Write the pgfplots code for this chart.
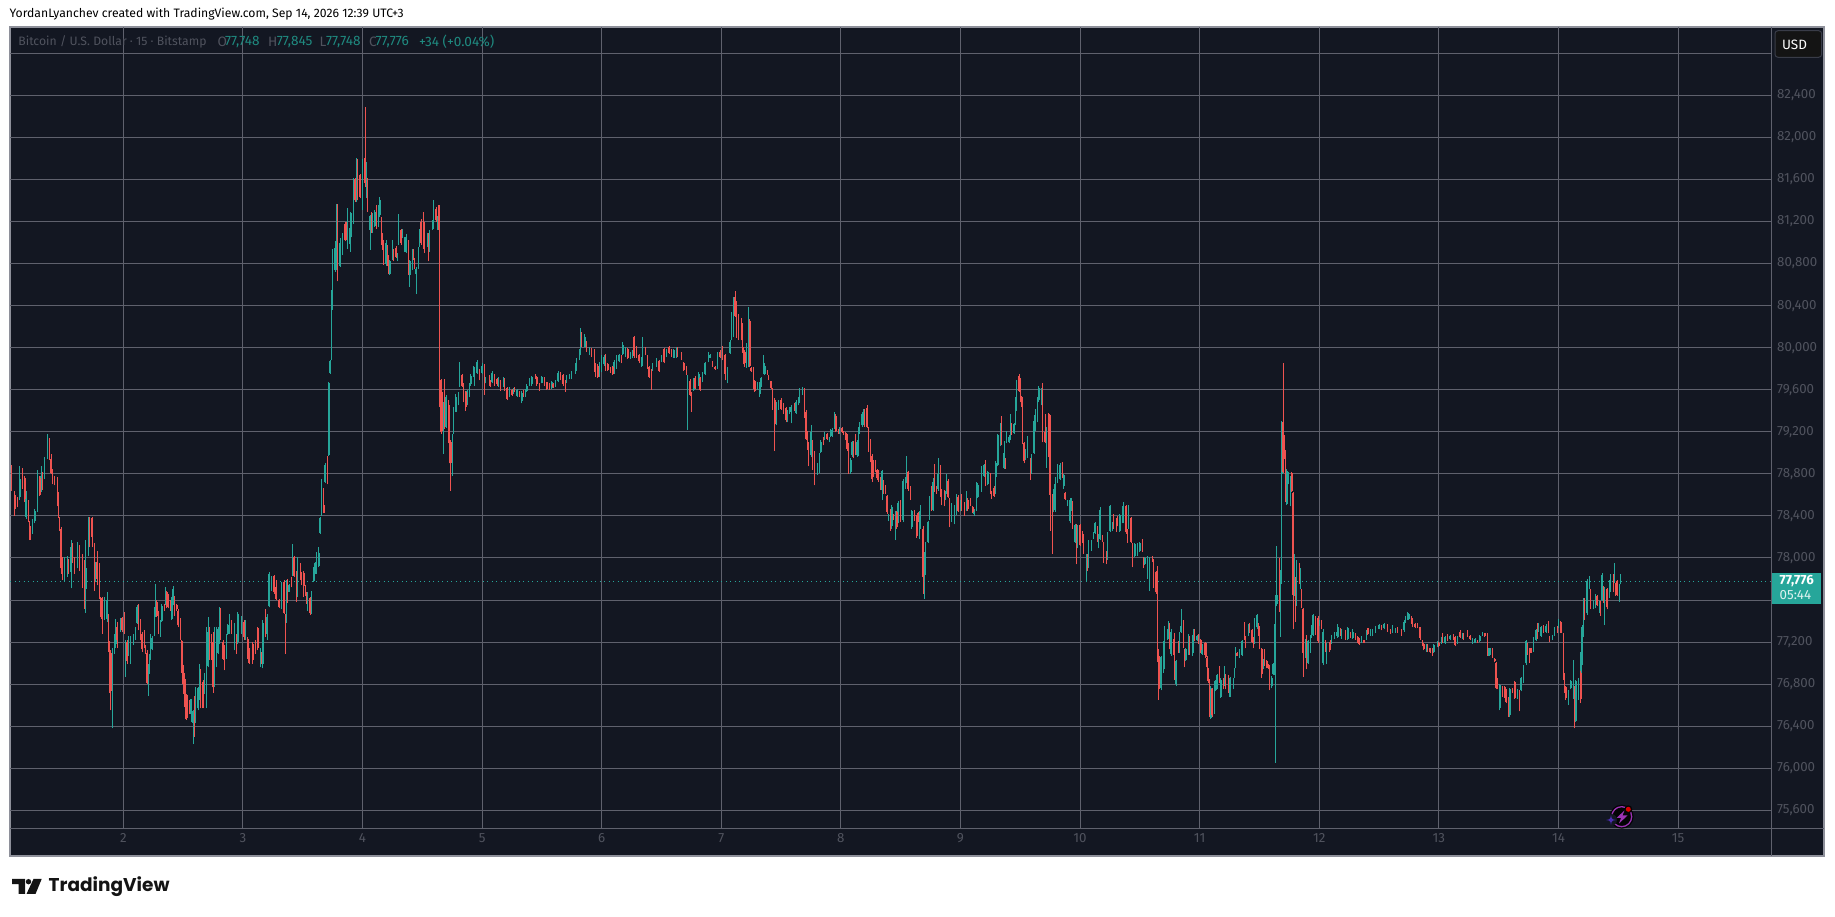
\documentclass[border=0pt]{standalone}
\usepackage{pgfplots}
\pgfplotsset{compat=1.18}
\usepackage{pgfplotstable}
\usepackage{fontspec}
\setmainfont{Fira Sans}
\newfontfamily\logofont{Poppins}
\definecolor{bg}{HTML}{131722}
\definecolor{gridc}{HTML}{5F616D}
\definecolor{framec}{HTML}{8E909A}
\definecolor{dimtxt}{HTML}{50535E}
\definecolor{cgreen}{HTML}{26A69A}
\definecolor{cred}{HTML}{EF5350}
\definecolor{dimgreen}{HTML}{1F8A80}
\pgfplotstableread{
x o h l c
6 78740 78880 78640 78640
9 78600 78640 78400 78470
11 78540 78580 78480 78490
13 78580 78870 78550 78750
15 78840 78860 78660 78670
17 78760 78780 78530 78560
18 78390 78640 78370 78560
20 78530 78550 78340 78350
21 78300 78350 78170 78170
23 78270 78370 78230 78360
25 78350 78470 78330 78450
27 78450 78840 78440 78760
29 78760 78780 78590 78600
30 78640 78870 78630 78780
31 78720 78820 78650 78660
33 78760 78960 78750 78950
35 78950 79180 78940 79130
37 79130 79140 78930 78940
38 78940 78990 78800 78810
39 78830 78850 78700 78760
41 78770 78780 78690 78700
43 78760 78770 78490 78650
44 78600 78630 78380 78390
45 78380 78390 78260 78280
46 78280 78290 77850 77900
47 77990 78010 77790 77860
49 77830 78010 77770 78000
51 77860 78020 77820 77990
52 77970 77990 77850 77870
54 77870 78170 77710 78100
55 78120 78140 77950 77960
57 78000 78010 77850 77880
59 77900 78150 77900 78130
61 78090 78120 77880 77900
63 77930 78040 77710 77780
65 77960 77980 77510 77630
66 77700 78170 77480 77900
68 78040 78390 78020 78380
69 78380 78390 78100 78130
71 78380 78390 78100 78200
73 78130 78140 77690 77880
74 77800 77960 77770 77940
75 77960 78070 77740 77800
77 77930 77950 77610 77640
78 77620 77630 77440 77450
79 77610 77630 77280 77420
81 77420 77630 77410 77600
83 77420 77680 77390 77600
84 77440 77470 77110 77200
85 77200 77210 76720 76730
86 77100 77120 76550 76730
87 76800 77140 76380 77100
89 77100 77280 77090 77250
90 77180 77420 77140 77300
91 77340 77390 77140 77220
94 77300 77430 77300 77420
95 77430 77440 77300 77310
97 77420 77490 77280 77300
98 77070 77220 76870 77180
99 77200 77220 76990 77020
100 77090 77260 77070 77220
102 77090 77260 76990 77180
104 77180 77280 77170 77260
106 77230 77340 77220 77320
107 77380 77550 77370 77530
108 77540 77560 77310 77340
110 77400 77420 77220 77240
111 77280 77300 77110 77130
113 77290 77310 77140 77170
114 77160 77170 77090 77100
115 77100 77120 76800 76810
116 76820 76990 76690 76980
117 76910 77090 76900 77070
118 77040 77280 77030 77200
119 77130 77260 77120 77240
121 77270 77530 77260 77500
122 77450 77750 77440 77600
123 77580 77600 77440 77450
124 77480 77500 77280 77360
126 77270 77410 77250 77390
127 77400 77560 77390 77540
129 77550 77560 77500 77510
130 77560 77720 77550 77700
131 77680 77690 77520 77530
132 77640 77660 77520 77530
134 77580 77600 77500 77510
135 77420 77630 77410 77610
136 77560 77730 77550 77700
137 77630 77640 77450 77470
139 77550 77560 77500 77510
140 77500 77510 77340 77360
142 77420 77430 77220 77220
143 77210 77220 76910 76940
144 76960 76980 76710 76800
145 76900 76910 76580 76600
146 76840 76850 76470 76520
147 76700 76710 76460 76480
149 76630 76650 76520 76530
150 76530 76660 76520 76640
151 76460 76660 76440 76640
152 76430 76550 76230 76540
153 76680 76690 76300 76440
154 76450 76770 76430 76660
156 76570 76770 76550 76760
157 76650 76990 76650 76770
158 76770 76940 76570 76570
160 76820 76840 76570 76570
161 76720 76910 76710 76900
163 76620 77340 76570 77310
164 76970 77440 76960 77300
165 77300 77340 77030 77040
167 77200 77280 77030 77040
168 77200 77300 76720 76770
169 76780 77340 76770 77280
171 76980 77340 76960 77300
172 77100 77340 77090 77320
173 77190 77530 77180 77500
174 77500 77520 77220 77230
176 77200 77220 77030 77040
177 77150 77170 76930 77040
179 77050 77280 77040 77270
180 77280 77370 77270 77360
181 77290 77470 77280 77400
183 77400 77410 77280 77290
185 77130 77380 77120 77370
187 77260 77280 77090 77110
188 77200 77490 77180 77470
191 77290 77450 77280 77440
193 77390 77410 77220 77250
194 77230 77410 77220 77310
196 77230 77250 77040 77060
197 77130 77140 76990 77000
200 77180 77200 76990 77030
202 77210 77220 77090 77100
204 77330 77340 77120 77140
206 76980 77140 76960 77120
207 77090 77110 76990 77000
208 76990 77410 76950 77380
210 77390 77510 77250 77270
211 77290 77440 77280 77420
212 77300 77470 77220 77450
213 77540 77870 77530 77850
215 77700 77830 77690 77820
217 77830 77840 77660 77680
218 77710 77720 77610 77620
219 77760 77790 77600 77600
221 77600 77610 77520 77530
223 77530 77770 77510 77760
225 77770 77790 77470 77480
226 77460 77470 77090 77150
227 77600 77790 77380 77770
228 77790 77800 77570 77580
229 77680 77750 77680 77740
231 77810 77820 77720 77730
232 77850 78130 77830 78010
233 78010 78020 77820 77830
235 77870 77880 77580 77600
236 77640 78010 77630 77880
238 77930 77950 77790 77800
239 77860 77870 77740 77750
241 77860 77880 77630 77730
242 77730 77740 77640 77660
243 77670 77680 77560 77580
244 77510 77680 77500 77660
246 77620 77630 77460 77480
247 77560 77690 77470 77660
249 77780 77910 77770 77900
250 77860 77960 77850 77950
251 77860 78060 77850 78040
253 77920 78100 77910 78050
254 78240 78390 78230 78380
255 78410 78750 78400 78600
257 78500 78670 78430 78430
258 78720 78900 78710 78880
260 78950 78970 78700 78710
261 78980 79670 78970 79660
262 79760 79880 79750 79870
263 79880 80550 79880 80540
264 80480 80940 80360 80780
266 80740 81010 80720 80950
267 80750 81370 80740 81000
268 80960 81370 80630 80820
270 80780 81040 80770 81000
272 80890 81090 80880 81060
274 81180 81200 81010 81020
275 81180 81200 81020 81040
276 81000 81330 80940 81300
278 80990 81290 80910 81140
279 81070 81280 81050 81250
281 81190 81610 81180 81590
282 81600 81610 81390 81400
283 81400 81800 81390 81700
284 81780 81790 81400 81420
286 81640 81650 81420 81430
288 81520 81790 81310 81780
290 81800 82290 81530 81570
291 81550 81770 81420 81750
292 81600 81610 81290 81300
294 81120 81260 80930 81250
295 81260 81290 81090 81100
296 81100 81280 81090 81250
298 81160 81310 81150 81290
299 81340 81360 81130 81150
301 81170 81360 81150 81330
302 81260 81430 81240 81400
303 81230 81240 80980 81000
304 81080 81090 80930 80950
305 81000 81020 80790 80800
307 80800 81020 80780 81000
308 80960 80980 80780 80800
309 80870 80880 80700 80720
310 80700 80830 80690 80820
312 80840 81020 80830 81000
313 80930 80940 80820 80830
315 80950 80970 80850 80860
316 80830 80900 80820 80880
317 80990 81270 80980 81250
319 81120 81130 80980 81000
320 81050 81130 81040 81120
322 80920 81050 80910 81040
323 80910 81080 80900 81050
325 80990 81020 80690 80720
326 80690 80830 80580 80820
328 80760 80940 80740 80930
329 80930 80940 80830 80840
330 80840 80850 80750 80770
331 80700 80770 80510 80750
333 80760 80960 80750 80950
334 80970 81130 80960 81120
335 81200 81220 80980 81000
337 81200 81290 80940 80960
338 81180 81200 80900 80910
340 80970 81090 80960 81070
341 81070 81090 80820 80880
342 80930 81120 80910 81100
344 81130 81210 81120 81200
345 81150 81400 81130 81300
347 81320 81340 81200 81210
348 81140 81250 81120 81230
349 81340 81360 81120 81130
350 81120 81360 79440 79440
351 79690 79700 79180 79200
352 79570 79580 79210 79230
353 79190 79480 78990 79470
354 79480 79700 79230 79240
355 79250 79550 79240 79530
357 79490 79500 79090 79100
358 79440 79450 78900 78900
359 79100 79120 78640 78900
360 78800 79180 78780 79170
361 79190 79440 79180 79420
363 79390 79560 79390 79530
365 79460 79580 79450 79560
366 79640 79860 79630 79850
368 79740 79750 79630 79640
369 79640 79660 79480 79500
371 79580 79590 79400 79440
372 79470 79600 79450 79590
374 79540 79660 79530 79640
375 79650 79750 79640 79730
377 79730 79830 79720 79820
378 79700 79820 79640 79800
380 79760 79880 79750 79860
382 79790 79800 79690 79700
384 79760 79850 79750 79830
386 79830 79840 79550 79700
387 79660 79720 79660 79710
390 79730 79740 79640 79650
391 79680 79690 79630 79640
392 79670 79780 79660 79760
394 79740 79750 79640 79650
396 79700 79710 79640 79650
397 79640 79720 79630 79710
399 79680 79690 79590 79610
401 79640 79720 79630 79710
402 79700 79710 79590 79610
404 79620 79630 79500 79510
406 79540 79630 79530 79620
408 79600 79610 79540 79550
409 79560 79620 79560 79610
410 79620 79630 79580 79590
412 79540 79610 79530 79600
414 79580 79590 79530 79540
416 79490 79590 79470 79570
417 79590 79600 79530 79540
419 79540 79610 79530 79600
420 79590 79650 79580 79640
422 79650 79710 79640 79700
424 79650 79730 79640 79720
427 79740 79750 79700 79700
428 79720 79730 79640 79650
430 79650 79660 79590 79610
432 79660 79730 79660 79720
434 79710 79720 79640 79650
436 79670 79670 79600 79610
438 79650 79660 79600 79610
440 79620 79680 79610 79670
441 79650 79660 79620 79630
443 79640 79690 79630 79680
445 79680 79780 79670 79760
447 79760 79770 79690 79700
449 79740 79750 79640 79650
451 79680 79690 79580 79610
452 79670 79740 79660 79720
454 79700 79750 79700 79740
456 79700 79780 79700 79770
459 79760 79850 79750 79830
460 79790 79900 79780 79880
462 79890 79990 79880 79980
463 79930 80190 79930 80160
464 80130 80150 80010 80020
466 80020 80130 80010 80120
467 80020 80100 80010 80080
468 80050 80060 79960 79970
470 79940 80010 79930 79990
472 79990 80000 79910 79920
474 79980 79990 79770 79780
475 79830 79850 79720 79730
477 79830 79840 79710 79720
478 79730 79860 79720 79850
480 79780 79930 79770 79910
482 79840 79930 79830 79910
483 79930 79940 79780 79800
485 79840 79850 79780 79790
487 79800 79820 79760 79770
489 79820 79830 79740 79750
490 79760 79880 79750 79860
492 79810 79930 79800 79910
494 79870 79940 79860 79930
496 79920 79930 79850 79860
497 79940 80050 79930 80030
499 79920 80010 79910 80000
501 79990 80000 79890 79900
503 79900 79960 79890 79950
505 79900 79980 79900 79960
506 80100 80110 79900 79920
508 80010 80020 79900 79910
510 79930 79940 79850 79870
512 79830 79910 79820 79900
513 79850 80100 79830 80000
515 80000 80010 79930 79940
517 79920 79930 79800 79810
518 79820 79830 79710 79720
520 79790 79800 79600 79680
521 79790 79850 79780 79840
524 79820 79900 79820 79880
526 79870 79880 79770 79780
528 79870 79930 79860 79920
530 79990 80000 79850 79860
532 79920 79990 79910 79980
534 80010 80020 79940 79950
536 79980 79990 79910 79920
538 79900 79990 79900 79980
540 79900 80010 79900 79990
541 80000 80010 79910 79920
544 79950 79960 79880 79890
546 79850 79860 79780 79790
548 79820 79830 79740 79750
549 79500 79740 79220 79730
551 79680 79700 79540 79550
552 79570 79580 79390 79450
554 79600 79710 79590 79690
555 79710 79730 79610 79620
558 79650 79770 79640 79750
559 79710 79720 79590 79600
561 79680 79770 79670 79760
563 79750 79860 79740 79850
566 79870 79960 79860 79950
567 79900 79940 79900 79930
569 79860 79870 79820 79830
571 79820 79830 79790 79800
573 79810 79960 79800 79950
575 79960 79980 79900 79910
577 80010 80020 79880 79890
579 79930 79940 79690 79750
581 79670 79820 79660 79800
583 79950 80070 79940 80050
584 80080 80340 80070 80300
586 80120 80480 80100 80450
587 80480 80540 80290 80300
588 80420 80440 80090 80160
590 80300 80320 80070 80100
592 80260 80280 80070 80100
593 80200 80230 79950 79980
594 80000 80010 79840 79860
595 79960 79980 79820 79850
596 79830 80040 79810 80020
598 79840 80390 79820 80030
599 80250 80270 79820 79830
600 79810 79820 79770 79780
602 79800 79820 79610 79670
603 79680 79690 79580 79590
605 79600 79670 79600 79660
607 79560 79670 79530 79660
608 79630 79720 79630 79710
610 79770 79930 79750 79900
611 79750 79850 79740 79830
613 79780 79790 79740 79750
614 79730 79740 79690 79700
616 79680 79680 79610 79620
617 79610 79620 79410 79420
619 79500 79520 79020 79270
620 79270 79480 79260 79470
622 79410 79500 79410 79490
624 79500 79520 79410 79420
626 79460 79470 79370 79390
628 79430 79440 79290 79310
629 79310 79410 79290 79390
631 79380 79440 79370 79430
632 79390 79450 79280 79440
635 79460 79470 79400 79410
636 79380 79500 79370 79480
638 79460 79530 79450 79520
639 79480 79620 79470 79610
641 79560 79630 79550 79620
643 79610 79620 79330 79340
644 79390 79410 79120 79130
645 79200 79210 79030 79050
646 79090 79100 78870 78940
648 78980 79260 78960 79200
649 79100 79120 78840 78880
651 79000 79020 78690 78700
653 78800 78900 78790 78890
655 78820 79000 78810 78990
656 79010 79120 79000 79100
658 79140 79150 79070 79080
659 79130 79200 79120 79190
661 79180 79190 79120 79130
663 79110 79150 79100 79140
664 79160 79230 79150 79220
665 79170 79240 79150 79220
667 79240 79390 79230 79370
668 79350 79370 79200 79210
670 79220 79230 79180 79190
671 79190 79250 79180 79240
673 79240 79250 79190 79200
674 79210 79210 79170 79180
676 79190 79200 79120 79130
677 79170 79180 79020 79040
678 79070 79090 78800 78950
680 78820 78950 78800 78930
681 78980 79110 78960 79100
682 79100 79110 78950 78970
684 79160 79180 78980 78990
685 78980 79120 78960 79100
686 78990 79250 78970 79230
687 79190 79290 79180 79280
689 79260 79390 79250 79370
690 79280 79420 79260 79400
691 79400 79420 79250 79260
693 79430 79450 79240 79250
694 79240 79250 79010 79020
696 79110 79130 78910 78930
697 78970 78990 78720 78750
698 78920 78930 78770 78800
700 78920 78930 78820 78830
701 78840 78850 78740 78760
702 78830 78840 78720 78740
704 78760 78770 78650 78660
705 78650 78840 78550 78830
706 78730 78740 78610 78620
708 78680 78690 78610 78620
709 78590 78600 78420 78440
710 78360 78420 78350 78410
712 78460 78470 78260 78300
713 78300 78500 78280 78480
714 78410 78420 78360 78370
716 78250 78450 78170 78430
717 78440 78450 78280 78290
718 78350 78540 78330 78520
720 78540 78550 78340 78360
722 78360 78750 78340 78730
724 78670 78770 78660 78760
725 78720 78970 78710 78780
726 78820 78830 78640 78660
728 78660 78680 78550 78560
729 78290 78460 78280 78450
731 78450 78460 78350 78360
733 78390 78410 78190 78210
734 78430 78440 78340 78350
735 78200 78450 78180 78430
736 78300 78500 78280 78480
738 78280 78300 77660 77820
739 77650 78060 77610 78030
740 77860 78150 77840 78130
742 78150 78350 78140 78340
743 78370 78590 78360 78570
745 78670 78680 78450 78470
746 78460 78760 78450 78720
747 78880 78890 78630 78640
749 78670 78680 78610 78620
750 78660 78950 78640 78800
752 78870 78880 78580 78600
753 78650 78660 78500 78520
755 78640 78650 78490 78500
756 78560 78640 78550 78630
757 78630 78800 78610 78780
758 78730 78750 78570 78580
759 78550 78570 78290 78400
761 78360 78520 78340 78500
763 78330 78500 78320 78490
765 78420 78610 78410 78600
766 78580 78600 78440 78450
768 78460 78550 78450 78540
769 78600 78610 78450 78470
771 78520 78530 78400 78410
773 78470 78640 78450 78550
774 78550 78570 78450 78470
776 78560 78570 78490 78500
778 78480 78490 78430 78440
779 78420 78470 78400 78460
781 78460 78720 78450 78700
782 78580 78710 78570 78690
785 78640 78870 78630 78790
787 78780 78890 78770 78880
788 78800 78930 78680 78700
790 78700 78830 78690 78820
792 78800 78810 78610 78630
793 78630 78640 78560 78570
795 78670 78680 78580 78590
796 78630 78920 78610 78900
797 78780 78900 78770 78890
798 78880 79180 78870 79170
800 79070 79280 79060 79140
801 79140 79350 79070 79080
803 78860 79110 78850 79000
804 78930 78950 78850 78860
805 79100 79210 79090 79200
807 79100 79170 79090 79150
808 79130 79370 79120 79180
809 79270 79280 79170 79180
811 79190 79280 79180 79270
812 79270 79530 79260 79500
813 79450 79690 79400 79670
815 79730 79750 79580 79590
816 79690 79710 79480 79530
817 79530 79540 79440 79450
818 79440 79530 79080 79100
819 79090 79100 78900 78920
820 78940 79040 78930 79030
822 78960 79160 78950 79140
824 78930 78950 78740 78780
825 78810 78990 78800 78980
827 79000 79360 78990 79300
828 79230 79420 79210 79400
830 79310 79530 79290 79520
831 79500 79640 79480 79620
833 79470 79620 79450 79610
834 79650 79660 79100 79120
836 79200 79370 79090 79100
837 78900 79250 78860 79230
839 79370 79380 78960 79000
840 79340 79360 78260 78600
842 78600 78610 78040 78300
843 78460 78660 78440 78640
844 78470 78770 78440 78700
846 78720 78890 78710 78880
848 78750 78900 78740 78880
850 78900 78910 78760 78770
851 78680 78800 78660 78790
852 78620 78630 78550 78560
854 78500 78550 78490 78540
856 78350 78570 78330 78550
857 78470 78570 78450 78550
858 78530 78540 78280 78300
860 78150 78320 78140 78310
861 78310 78320 77940 78010
862 78100 78310 78090 78300
864 78310 78320 78110 78120
866 78250 78260 78140 78150
867 78220 78230 78040 78060
869 77800 78040 77770 78030
870 78030 78040 77880 77900
871 77920 78170 77900 78150
873 78080 78170 78070 78160
875 78190 78250 78180 78240
876 78240 78340 78230 78330
878 78290 78300 78150 78170
879 78100 78230 78090 78220
880 78180 78480 78170 78460
882 78210 78220 78150 78160
883 78140 78150 77950 77960
885 78060 78070 77940 77950
886 78000 78250 77980 78230
888 78260 78500 78250 78490
890 78270 78340 78260 78330
891 78410 78420 78280 78290
893 78370 78380 78250 78260
894 78390 78400 78300 78300
896 78260 78420 78250 78410
898 78340 78490 78330 78470
899 78350 78530 78330 78510
901 78490 78500 78230 78250
902 78270 78280 78140 78150
903 78290 78500 78280 78480
905 78380 78390 78140 78150
906 78130 78140 77910 77930
908 78020 78140 78010 78130
910 78030 78140 78020 78130
912 78070 78150 78060 78140
914 78170 78180 78060 78070
915 78000 78010 77900 77910
916 77940 78010 77930 78000
918 77820 78020 77800 78000
920 77800 78010 77690 78000
922 78010 78020 77960 77970
923 77990 77990 77710 77800
925 77870 77880 77660 77680
926 77700 77920 77010 77020
927 77030 77130 76650 76750
928 77050 77070 76750 76770
929 76760 77070 76740 77060
931 76920 77210 76910 77190
932 76960 77350 76940 77330
934 77230 77320 77220 77310
935 77240 77400 77230 77390
936 77370 77380 77130 77140
937 77090 77320 77070 77300
939 77220 77230 77080 77090
940 77270 77290 76840 76950
941 76800 77030 76780 77020
943 77200 77210 77100 77110
944 77120 77300 77100 77290
945 77300 77510 77290 77350
947 77390 77410 77140 77160
948 77120 77130 76960 76980
949 77030 77140 77020 77130
951 77100 77280 77080 77270
952 77250 77260 77080 77100
954 77090 77270 77070 77260
955 77110 77320 77100 77310
956 77310 77320 77210 77220
958 77220 77270 77210 77260
959 77270 77280 77180 77190
961 77220 77230 77100 77120
962 77090 77180 77080 77170
964 77180 77190 77080 77090
965 77190 77200 77050 77060
966 77050 77070 76830 76960
967 76940 76950 76810 76820
968 76840 76850 76490 76510
969 76480 76780 76470 76760
970 76750 76760 76490 76510
972 76540 76830 76520 76810
973 76740 76840 76730 76830
974 76760 76900 76750 76890
976 76950 76970 76810 76830
977 76680 76860 76670 76840
979 76850 76860 76750 76760
980 76790 76970 76780 76950
981 76890 76900 76750 76760
983 76880 76890 76720 76730
984 76700 76860 76680 76850
985 76700 76870 76680 76860
987 76760 76860 76750 76850
988 76870 76950 76860 76940
989 76960 77150 76950 77140
990 77100 77110 77070 77070
992 77060 77130 77050 77120
994 77080 77220 77070 77210
996 77380 77390 77220 77240
997 77250 77260 77140 77160
999 77260 77370 77260 77350
1000 77370 77380 77290 77300
1002 77310 77320 77190 77200
1003 77240 77250 77140 77160
1004 77200 77430 77180 77410
1006 77340 77470 77320 77460
1007 77370 77380 77260 77270
1008 77340 77350 77130 77150
1010 77130 77140 76860 76900
1011 76950 77040 76940 77030
1012 77120 77130 76970 76980
1014 77020 77030 76950 76960
1015 76980 76990 76940 76950
1016 76960 76980 76740 76760
1018 76780 76880 76760 76860
1019 76900 77000 76890 76990
1020 76900 77370 76890 77300
1021 76900 77650 76050 77640
1022 77560 78110 77540 77650
1024 77990 78000 77490 77540
1025 77500 77890 77250 77800
1026 78800 79300 77750 79290
1027 79290 79850 78810 78820
1028 79160 79170 78940 78950
1029 79020 79030 78530 78540
1030 78510 78850 78500 78830
1031 78710 78820 78700 78810
1033 78500 78780 78490 78760
1034 78810 78820 78630 78640
1035 78620 78630 77320 77650
1036 77650 78040 77640 78020
1037 77800 77820 77390 77550
1038 77560 77980 77540 77960
1040 77940 77950 77750 77760
1041 77710 77900 77700 77880
1042 77690 77700 77520 77530
1043 77510 77520 76870 77100
1045 77060 77230 77050 77220
1046 77260 77270 76940 77020
1047 77000 77220 76990 77210
1049 77110 77270 77100 77260
1050 77250 77360 77240 77340
1051 77270 77470 77260 77460
1053 77440 77450 77270 77290
1055 77430 77450 77190 77210
1056 77360 77410 77350 77400
1058 77400 77410 77320 77330
1059 77000 77320 76980 77300
1061 77210 77220 77110 77120
1062 77000 77190 76990 77170
1064 77190 77200 77110 77120
1065 77210 77220 77120 77130
1066 77190 77270 77180 77260
1068 77240 77300 77230 77290
1070 77260 77300 77260 77290
1071 77250 77370 77240 77340
1073 77320 77330 77260 77270
1074 77240 77320 77230 77310
1077 77300 77310 77220 77240
1079 77230 77340 77220 77330
1081 77290 77300 77240 77250
1083 77240 77320 77230 77300
1085 77280 77290 77220 77230
1087 77250 77260 77190 77200
1088 77230 77240 77170 77180
1090 77200 77260 77190 77250
1092 77220 77220 77190 77190
1094 77230 77310 77220 77300
1095 77330 77330 77270 77280
1097 77260 77320 77260 77310
1099 77260 77320 77260 77310
1101 77300 77350 77290 77340
1104 77320 77370 77320 77360
1106 77350 77360 77310 77320
1108 77330 77380 77320 77370
1111 77360 77370 77300 77310
1113 77320 77320 77280 77290
1115 77290 77360 77290 77340
1117 77290 77330 77290 77330
1119 77340 77340 77290 77300
1122 77310 77320 77260 77270
1124 77310 77410 77300 77390
1125 77390 77450 77380 77440
1127 77420 77490 77410 77480
1128 77420 77480 77410 77470
1130 77440 77450 77370 77380
1131 77420 77430 77340 77350
1133 77370 77380 77330 77340
1135 77370 77380 77330 77340
1137 77340 77340 77220 77240
1139 77220 77220 77160 77170
1140 77180 77190 77120 77130
1142 77120 77180 77110 77170
1143 77170 77180 77110 77120
1145 77140 77140 77100 77110
1147 77130 77140 77070 77070
1148 77110 77180 77100 77170
1151 77160 77210 77150 77200
1152 77190 77200 77150 77160
1154 77180 77250 77180 77240
1155 77280 77290 77190 77200
1157 77190 77260 77180 77250
1159 77270 77280 77210 77220
1161 77230 77270 77220 77260
1164 77270 77280 77220 77230
1165 77250 77260 77160 77170
1167 77190 77260 77180 77250
1169 77300 77310 77240 77250
1171 77240 77290 77230 77280
1172 77280 77290 77220 77230
1175 77300 77310 77250 77260
1177 77260 77270 77220 77230
1179 77190 77240 77180 77230
1181 77190 77240 77190 77230
1183 77210 77220 77190 77190
1185 77210 77270 77200 77260
1187 77270 77300 77260 77300
1189 77290 77290 77250 77260
1191 77280 77290 77070 77080
1192 77080 77140 77070 77140
1193 77080 77140 77070 77140
1195 77140 77140 77050 77060
1197 77040 77050 77010 77020
1198 77000 77010 76750 76760
1199 76850 76860 76750 76760
1201 76570 76800 76550 76790
1203 76770 76780 76680 76700
1205 76770 76780 76670 76680
1206 76740 76750 76620 76630
1208 76680 76680 76490 76500
1209 76510 76760 76490 76750
1211 76760 76760 76720 76730
1213 76820 76830 76660 76670
1215 76670 76750 76660 76740
1217 76730 76740 76540 76550
1218 76740 76870 76730 76860
1220 76820 76980 76810 76970
1222 77000 77220 76980 77210
1223 77180 77190 77080 77090
1225 77140 77140 77000 77020
1226 77140 77140 77100 77100
1228 77120 77250 77110 77240
1230 77220 77320 77210 77310
1231 77370 77380 77230 77240
1232 77310 77380 77300 77370
1234 77260 77350 77250 77340
1236 77350 77360 77290 77290
1238 77300 77370 77290 77350
1240 77390 77400 77290 77300
1241 77250 77260 77200 77210
1243 77230 77270 77220 77260
1245 77270 77340 77260 77330
1247 77340 77350 77290 77300
1248 77340 77420 77330 77410
1250 77390 77400 77290 77290
1252 77280 77290 76840 76860
1253 76900 76910 76720 76730
1254 76770 76780 76650 76670
1256 76620 76740 76600 76730
1258 76760 76840 76750 76830
1260 76680 77030 76660 76840
1261 76770 76780 76380 76400
1262 76450 76840 76440 76830
1264 76670 76860 76650 76840
1266 76910 76920 76620 76660
1266 76750 77110 76730 77090
1267 77000 77360 76980 77340
1268 77260 77620 77250 77600
1269 77610 77620 77410 77430
1271 77480 77800 77460 77780
1273 77710 77830 77700 77820
1274 77690 77700 77510 77520
1276 77520 77600 77510 77590
1278 77540 77660 77520 77650
1279 77640 77650 77540 77550
1281 77490 77590 77480 77580
1282 77580 77590 77450 77460
1283 77600 77860 77590 77840
1284 77720 77730 77570 77590
1285 77500 77720 77360 77710
1287 77700 77710 77510 77530
1289 77630 77790 77620 77780
1290 77700 77850 77680 77840
1292 77840 77850 77680 77700
1293 77780 77950 77760 77850
1294 77750 77760 77640 77650
1295 77780 77790 77640 77650
1297 77640 77750 77580 77740
1298 77748 77845 77748 77776
}\bars
\begin{document}
\begin{tikzpicture}[x=1bp,y=1bp]
\useasboundingbox (0,0) rectangle (1835bp,917bp);
\fill[white] (0,0) rectangle (1835bp,917bp);
\begin{scope}[x=1bp,y=-1bp,yshift=917bp]
\filldraw[fill=bg,draw=framec,line width=1.2bp] (10,27) rectangle (1824,856);
\draw[gridc,line width=1bp] (1771.7,27) -- (1771.7,856);
\draw[gridc,line width=1bp] (10,829) -- (1824,829);
\end{scope}
\begin{axis}[
  at={(10bp,88bp)},anchor=south west,
  scale only axis,width=1761.7bp,height=802bp,
  xmin=5.05,xmax=1419.2,ymin=75422,ymax=83050,
  axis line style={draw=none},
  scaled x ticks=false,scaled y ticks=false,
  xtick={96,192,288,384,480,576,672,768,864,960,1056,1152,1248,1344},
  xticklabels={2,3,4,5,6,7,8,9,10,11,12,13,14,15},
  ytick={75600,76000,76400,76800,77200,77600,78000,78400,78800,79200,79600,80000,80400,80800,81200,81600,82000,82400,82800},
  yticklabels={{75,600},{76,000},{76,400},{76,800},{77,200},{},{78,000},{78,400},{78,800},{79,200},{79,600},{80,000},{80,400},{80,800},{81,200},{81,600},{82,000},{82,400},{}},
  yticklabel pos=right,
  major tick length=0pt,
  tick label style={font=\fontsize{13.3bp}{15bp}\selectfont,text=dimtxt},
  yticklabel style={anchor=west,xshift=2bp},
  xticklabel style={yshift=-1bp},
  grid=major,
  grid style={gridc,line width=1bp},
  clip=true,
]
\addplot[forget plot,cgreen,line width=.8bp,dash pattern=on 1bp off 3.5bp] coordinates {(5.05,77776) (1419.2,77776)};
\addplot[forget plot,draw=none,mark=none,error bars/.cd,y dir=plus,y explicit,error mark=none,error bar style={draw=cgreen,line width=.9bp}]
  table[x=x,y expr={\thisrow{c}>=\thisrow{o} ? \thisrow{l} : nan},y error expr={\thisrow{h}-\thisrow{l}}] {\bars};
\addplot[forget plot,draw=none,mark=none,error bars/.cd,y dir=plus,y explicit,error mark=none,error bar style={draw=cgreen,line width=1.35bp}]
  table[x=x,y expr={\thisrow{c}>=\thisrow{o} ? \thisrow{o} : nan},y error expr={\thisrow{c}-\thisrow{o}}] {\bars};
\addplot[forget plot,draw=none,mark=none,error bars/.cd,y dir=plus,y explicit,error mark=none,error bar style={draw=cred,line width=.9bp}]
  table[x=x,y expr={\thisrow{c}<\thisrow{o} ? \thisrow{l} : nan},y error expr={\thisrow{h}-\thisrow{l}}] {\bars};
\addplot[forget plot,draw=none,mark=none,error bars/.cd,y dir=plus,y explicit,error mark=none,error bar style={draw=cred,line width=1.35bp}]
  table[x=x,y expr={\thisrow{c}<\thisrow{o} ? \thisrow{c} : nan},y error expr={\thisrow{o}-\thisrow{c}}] {\bars};
\end{axis}
\begin{scope}[x=1bp,y=-1bp,yshift=917bp]
% header
\node[anchor=west,inner sep=0,font=\fontsize{12.2bp}{14bp}\selectfont,text=black] at (9.5,14.5) {YordanLyanchev created with TradingView.com, Sep 14, 2026 12:39 UTC+3};
\begin{scope}[every node/.style={anchor=west,inner sep=0,font=\fontsize{13.6bp}{15bp}\selectfont}]
\node[text=dimtxt,font=\fontsize{12.2bp}{15bp}\selectfont] at (18.2,42) {Bitcoin / U.S. Dollar · 15 · Bitstamp};
\node[text=dimtxt] at (217.4,42) {O};
\node[text=dimgreen] at (225,42) {77,748};
\node[text=dimtxt] at (268,42) {H};
\node[text=dimgreen] at (276.7,42) {77,845};
\node[text=dimtxt] at (319.4,42) {L};
\node[text=dimgreen] at (326,42) {77,748};
\node[text=dimtxt] at (369,42) {C};
\node[text=dimgreen] at (375.5,42) {77,776};
\node[text=dimgreen] at (419,42) {+34 (+0.04\%)};
\end{scope}
% USD button
\filldraw[fill=black!92,draw=gridc!50!bg,line width=1bp,rounded corners=3bp] (1775,30.7) rectangle (1821.7,57.3);
\node[text=white,font=\fontsize{13.5bp}{15bp}\selectfont] at (1794.5,44.5) {USD};
% price label
\fill[cgreen] (1771.7,572.7) rectangle (1820.7,604);
\node[anchor=west,inner sep=0,text=white,font=\fontsize{13.3bp}{15bp}\selectfont\bfseries] at (1779.5,581) {77,776};
\node[anchor=west,inner sep=0,text=white!85!cgreen,font=\fontsize{13.3bp}{15bp}\selectfont] at (1779.5,595) {05:44};
% icon
\definecolor{icp}{HTML}{9B32B4}
\definecolor{ics}{HTML}{4A2DB0}
\fill[black!85!bg] (1621.7,816.7) circle (12);
\draw[icp,line width=1.3bp] (1621.7,816.7) circle (10);
\fill[icp] (1624.5,810.5) -- (1616.5,818) -- (1621,818) -- (1619,823.5) -- (1627.5,815.5) -- (1622.5,815.5) -- cycle;
\fill[black!85!bg] (1628.3,809.3) circle (4);
\fill[red!85!black] (1628.3,809.3) circle (2.5);
\fill[bg] (1611,820) circle (6);
\fill[ics] (1611,815) .. controls (1611.5,819) and (1612,819.5) .. (1616,820) .. controls (1612,820.5) and (1611.5,821) .. (1611,825) .. controls (1610.5,821) and (1610,820.5) .. (1606,820) .. controls (1610,819.5) and (1610.5,819) .. (1611,815) -- cycle;
% logo
\fill[black!92] (12,879) -- (25,879) -- (25,894) -- (18.7,894) -- (18.7,884.2) -- (12,884.2) -- cycle;
\fill[black!92] (28.5,881.7) circle (2.7);
\fill[black!92] (33.5,879) -- (41.7,879) -- (35.5,894) -- (26.5,894) -- cycle;
\node[anchor=west,inner sep=0,text=black!92,font=\fontsize{18.5bp}{22bp}\logofont\bfseries] at (48.5,886.5) {TradingView};
\end{scope}
\end{tikzpicture}
\end{document}
